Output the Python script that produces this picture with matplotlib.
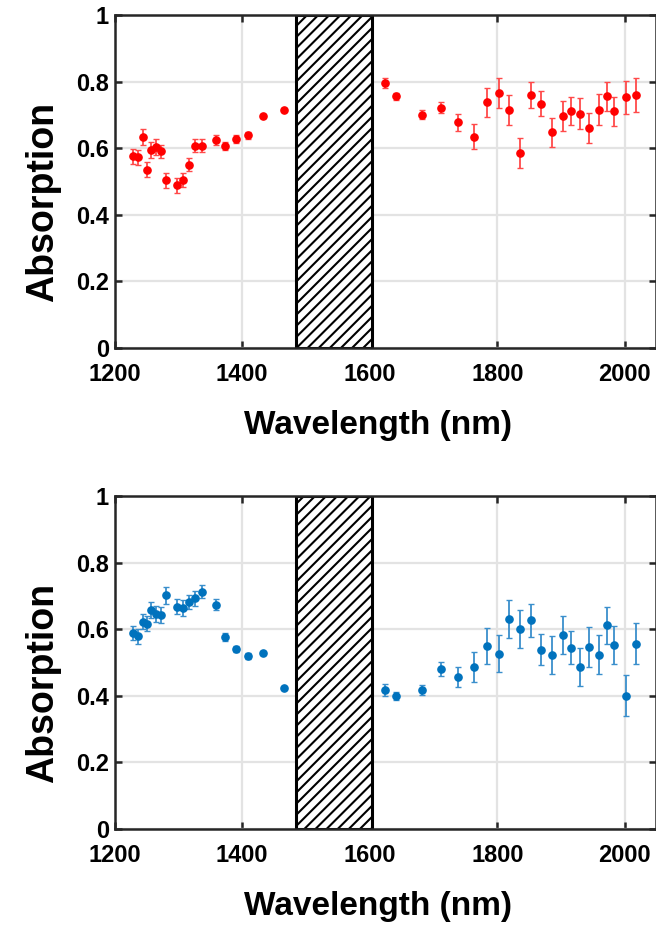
import matplotlib
matplotlib.use("Agg")
import matplotlib.pyplot as plt
from matplotlib.patches import Rectangle

plt.rcParams['font.family'] = ['Liberation Sans', 'DejaVu Sans']
plt.rcParams['font.weight'] = 'bold'
plt.rcParams['hatch.linewidth'] = 1.5
plt.rcParams['hatch.color'] = '#444444'

wavelength = [1229, 1236, 1245, 1251, 1257, 1265, 1273, 1280, 1297, 1307, 1316, 1326, 1337,
              1359, 1373, 1391, 1409, 1432, 1465,
              1624, 1641, 1682, 1712, 1738, 1764, 1783, 1803, 1819, 1836, 1853, 1868, 1885,
              1903, 1916, 1929, 1943, 1959, 1972, 1983, 2002, 2017]

abs_red = [0.576, 0.573, 0.635, 0.536, 0.595, 0.605, 0.591, 0.503, 0.488, 0.504, 0.551, 0.608, 0.608,
           0.624, 0.606, 0.628, 0.639, 0.696, 0.716,
           0.797, 0.756, 0.701, 0.722, 0.678, 0.635, 0.738, 0.767, 0.715, 0.585, 0.760, 0.734, 0.648,
           0.698, 0.713, 0.704, 0.661, 0.716, 0.756, 0.711, 0.753, 0.760]
err_red = [0.022, 0.022, 0.024, 0.022, 0.024, 0.024, 0.020, 0.022, 0.022, 0.022, 0.020, 0.020, 0.020,
           0.015, 0.012, 0.012, 0.010, 0.006, 0.005,
           0.015, 0.010, 0.013, 0.016, 0.025, 0.037, 0.044, 0.045, 0.044, 0.045, 0.038, 0.037, 0.043,
           0.045, 0.042, 0.047, 0.045, 0.047, 0.044, 0.044, 0.050, 0.050]

abs_blue = [0.589, 0.579, 0.623, 0.617, 0.658, 0.647, 0.642, 0.702, 0.668, 0.664, 0.682, 0.693, 0.713,
            0.674, 0.577, 0.540, 0.520, 0.528, 0.423,
            0.417, 0.399, 0.417, 0.481, 0.457, 0.486, 0.550, 0.527, 0.632, 0.600, 0.627, 0.539, 0.523,
            0.583, 0.545, 0.486, 0.547, 0.524, 0.612, 0.552, 0.400, 0.557]
err_blue = [0.022, 0.022, 0.022, 0.022, 0.024, 0.024, 0.024, 0.026, 0.022, 0.024, 0.022, 0.022, 0.020,
            0.016, 0.011, 0.009, 0.008, 0.006, 0.004,
            0.018, 0.013, 0.015, 0.022, 0.030, 0.045, 0.055, 0.057, 0.057, 0.057, 0.050, 0.048, 0.057,
            0.057, 0.050, 0.058, 0.060, 0.058, 0.055, 0.057, 0.062, 0.062]

gap_band = (1485, 1603)
xticks = [1200, 1400, 1600, 1800, 2000]
yticks = [0, 0.2, 0.4, 0.6, 0.8, 1.0]
ytick_labels = ['0', '0.2', '0.4', '0.6', '0.8', '1']

fig = plt.figure(figsize=(6.56, 9.36), dpi=100)
ax_left, ax_w, ax_h = 0.1748, 0.8245, 0.3558
axes = [fig.add_axes([ax_left, 0.6282, ax_w, ax_h]),
        fig.add_axes([ax_left, 0.1143, ax_w, ax_h])]

series = [(abs_red, err_red, '#ff0000', '#ff4a4a'),
          (abs_blue, err_blue, '#0072BD', '#3a8fcc')]

for ax, (vals, errs, col, ecol) in zip(axes, series):
    ax.set_xlim(1200, 2048)
    ax.set_ylim(0, 1)
    ax.grid(True, color='#e3e3e3', linewidth=1.6, zorder=0)
    ax.set_axisbelow(True)
    ax.add_patch(Rectangle((gap_band[0], 0), gap_band[1] - gap_band[0], 1,
                           facecolor='white', edgecolor='black', linewidth=2.2,
                           hatch='///', zorder=2))
    ax.errorbar(wavelength, vals, yerr=errs, fmt='o', color=col, ms=5.2,
                ecolor=ecol, elinewidth=1.3, capsize=2.5, capthick=1.0,
                zorder=3)
    ax.set_xticks(xticks)
    ax.set_yticks(yticks)
    ax.set_yticklabels(ytick_labels)
    ax.tick_params(direction='in', length=5, width=1.8, top=True, right=True,
                   labelsize=17, colors='#262626', labelcolor='black')
    ax.tick_params(axis='x', pad=11)
    ax.tick_params(axis='y', pad=4)
    for s in ax.spines.values():
        s.set_linewidth(1.8)
        s.set_color('#262626')
        s.set_zorder(4)
    ax.set_xlabel('Wavelength (nm)', fontsize=24, fontweight='bold')
    ax.set_ylabel('Absorption', fontsize=27, fontweight='bold')
    ax.xaxis.set_label_coords(0.486, -0.185)
    ax.yaxis.set_label_coords(-0.10, 0.44)

fig.savefig('out.png', dpi=100)
